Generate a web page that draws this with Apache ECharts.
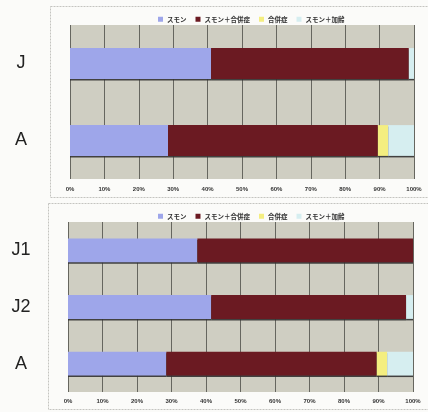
<!DOCTYPE html>
<html>
<head>
<meta charset="utf-8">
<script src="https://cdn.jsdelivr.net/npm/echarts@6/dist/echarts.min.js"></script>
<style>
  html, body { margin: 0; padding: 0; background: #fbfbf9; }
  #chart { width: 428px; height: 412px; }
</style>
</head>
<body>
<div id="chart"></div>
<script>
// Category labels for each panel
const categoriesTop = ['J', 'A'];
const categoriesBottom = ['J1', 'J2', 'A'];

// Series names (legend order)
const seriesNames = ['スモン', 'スモン＋合併症', '合併症', 'スモン＋加齢'];

// Percentages, upper panel
const topSmon = [41, 28.5];
const topSmonComp = [57.5, 61];
const topComp = [0, 3];
const topSmonAge = [1.5, 7.5];

// Percentages, lower panel
const bottomSmon = [37.5, 41.5, 28.5];
const bottomSmonComp = [62.5, 56.5, 61];
const bottomComp = [0, 0, 3];
const bottomSmonAge = [0, 2, 7.5];

// Percent tick values on the x axes
const percentTicks = [0, 10, 20, 30, 40, 50, 60, 70, 80, 90, 100];

const colors = ['#9ea6ea', '#6b1a22', '#f4ee80', '#d6eef0'];
const cjkFont = '"Noto Sans CJK JP", "Noto Sans", sans-serif';

const chart = echarts.init(document.getElementById('chart'));

function makeXAxis(gridIndex, margin) {
  return {
    type: 'value', gridIndex: gridIndex,
    min: percentTicks[0], max: percentTicks[percentTicks.length - 1],
    interval: percentTicks[1] - percentTicks[0],
    axisLine: { show: false }, axisTick: { show: false },
    splitLine: { show: true, lineStyle: { color: '#66665f', width: 1 } },
    axisLabel: {
      formatter: '{value}%', fontSize: 6, fontWeight: 'bold', color: '#333',
      fontFamily: 'Liberation Sans, Arial, sans-serif', margin: margin
    }
  };
}

function makeYAxis(gridIndex, cats, margin) {
  return {
    type: 'category', gridIndex: gridIndex, data: cats, inverse: true,
    axisLine: { show: false }, axisTick: { show: false },
    splitLine: { show: false },
    axisLabel: {
      fontSize: 18, color: '#222', align: 'center', margin: margin,
      fontFamily: 'Liberation Sans, Arial, sans-serif'
    }
  };
}

function makeSeries(axisIndex, stackName, dataSets, barWidth) {
  return dataSets.map(function (d, i) {
    return {
      name: seriesNames[i], type: 'bar', stack: stackName,
      xAxisIndex: axisIndex, yAxisIndex: axisIndex,
      barWidth: barWidth, data: d,
      itemStyle: {
        color: colors[i],
        shadowColor: 'rgba(50,50,50,0.9)', shadowOffsetY: 1.5, shadowBlur: 0
      },
      emphasis: { disabled: true }
    };
  });
}

function makeLegend(top) {
  return {
    top: top, left: 153, itemWidth: 5, itemHeight: 5, itemGap: 9,
    icon: 'rect',
    textStyle: { fontSize: 6.5, fontWeight: 'bold', color: '#333', fontFamily: cjkFont, padding: [0, 0, 0, -1] },
    data: seriesNames
  };
}

chart.setOption({
  animation: false,
  backgroundColor: '#fbfbf9',
  color: colors,
  graphic: [
    { type: 'rect', shape: { x: 50.5, y: 6.5, width: 390, height: 191 },
      style: { fill: 'none', stroke: '#c4c4c0', lineWidth: 1, lineDash: [2, 1] } },
    { type: 'rect', shape: { x: 48.5, y: 203.5, width: 392, height: 206 },
      style: { fill: 'none', stroke: '#c4c4c0', lineWidth: 1, lineDash: [2, 1] } }
  ],
  legend: [makeLegend(11), makeLegend(208)],
  grid: [
    { left: 70, right: 14, top: 25, height: 154, show: true,
      backgroundColor: '#cfcec2', borderWidth: 0 },
    { left: 68, right: 15, top: 222, height: 170, show: true,
      backgroundColor: '#cfcec2', borderWidth: 0 }
  ],
  xAxis: [makeXAxis(0, 7), makeXAxis(1, 6)],
  yAxis: [makeYAxis(0, categoriesTop, 49), makeYAxis(1, categoriesBottom, 47)],
  series: [].concat(
    makeSeries(0, 'top', [topSmon, topSmonComp, topComp, topSmonAge], '40%'),
    makeSeries(1, 'bottom', [bottomSmon, bottomSmonComp, bottomComp, bottomSmonAge], '42%')
  )
});
</script>
</body>
</html>
